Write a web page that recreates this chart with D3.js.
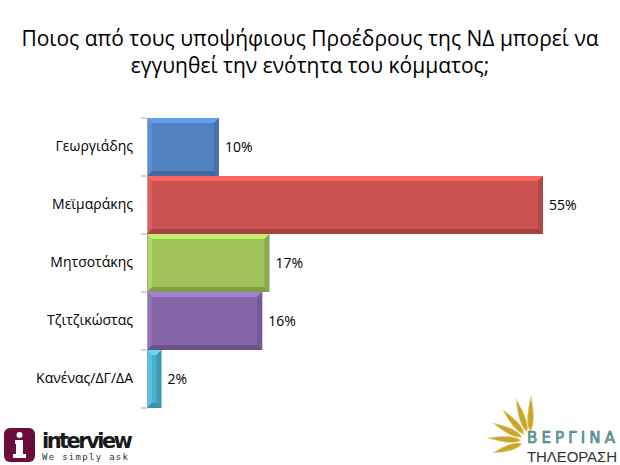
<!DOCTYPE html>
<html>
<head>
<meta charset="utf-8">
<script src="https://cdn.jsdelivr.net/npm/d3@7"></script>
<style>
  body { margin: 0; background: #fff; }
  svg { display: block; font-family: "Open Sans", "Noto Sans", sans-serif; }
</style>
</head>
<body>
<div id="chart"></div>
<script>
const categories = ["Γεωργιάδης", "Μεϊμαράκης", "Μητσοτάκης", "Τζιτζικώστας", "Κανένας/ΔΓ/ΔΑ"];
const values = [10, 55, 17, 16, 2];
const colors = ["#5082c2", "#cb5351", "#9fc25a", "#8566a8", "#4bb0cc"];
const titleLines = ["Ποιος από τους υποψήφιους Προέδρους της ΝΔ μπορεί να", "εγγυηθεί την ενότητα του κόμματος;"];

const W = 620, H = 465;
const svg = d3.select("#chart").append("svg")
  .attr("width", W)
  .attr("height", H);

// title
svg.append("g").selectAll("text")
  .data(titleLines)
  .enter().append("text")
  .attr("x", 310)
  .attr("y", (d, i) => 46 + i * 27)
  .attr("text-anchor", "middle")
  .attr("font-size", 21)
  .attr("fill", "#000")
  .text(d => d);

const x = d3.scaleLinear().domain([0, 60]).range([147, 579]);
const y = d3.scaleBand().domain(categories).range([118, 408]).padding(0);

const plot = svg.append("g");

// bars with a bevel, like the office chart style
const b = 5;
const bars = plot.selectAll(".bar")
  .data(values)
  .enter().append("g")
  .attr("class", "bar");

bars.each(function(v, i) {
  const g = d3.select(this);
  const x0 = x(0), x1 = x(v), y0 = y(categories[i]), y1 = y0 + y.bandwidth();
  const c = d3.color(colors[i]);
  const bb = Math.min(b, (x1 - x0) / 2);
  g.append("rect")
    .attr("x", x0).attr("y", y0)
    .attr("width", x1 - x0).attr("height", y1 - y0)
    .attr("fill", c);
  // top
  g.append("path")
    .attr("d", `M${x0},${y0}L${x1},${y0}L${x1 - bb},${y0 + bb}L${x0 + bb},${y0 + bb}Z`)
    .attr("fill", c.brighter(0.6));
  // left
  g.append("path")
    .attr("d", `M${x0},${y0}L${x0 + bb},${y0 + bb}L${x0 + bb},${y1 - bb}L${x0},${y1}Z`)
    .attr("fill", c.brighter(0.3));
  // bottom
  g.append("path")
    .attr("d", `M${x0},${y1}L${x0 + bb},${y1 - bb}L${x1 - bb},${y1 - bb}L${x1},${y1}Z`)
    .attr("fill", c.darker(0.6));
  // right
  g.append("path")
    .attr("d", `M${x1},${y0}L${x1},${y1}L${x1 - bb},${y1 - bb}L${x1 - bb},${y0 + bb}Z`)
    .attr("fill", c.darker(0.35));
});

// value labels
plot.selectAll(".val")
  .data(values)
  .enter().append("text")
  .attr("class", "val")
  .attr("x", d => x(d) + 6)
  .attr("y", (d, i) => y(categories[i]) + y.bandwidth() / 2)
  .attr("dy", "0.35em")
  .attr("font-size", 14)
  .attr("fill", "#000")
  .text(d => d + "%");

// category axis
const yAxis = d3.axisLeft(y).tickSize(0).tickPadding(14);
const axisG = svg.append("g")
  .attr("transform", `translate(${x(0)},0)`)
  .call(yAxis);
axisG.select(".domain").attr("stroke", "#a6a6a6");
axisG.selectAll("text")
  .attr("font-size", 14)
  .attr("fill", "#000")
  .attr("font-family", "'Open Sans', 'Noto Sans', sans-serif");

// tick marks at band boundaries
const bounds = categories.map(c => y(c)).concat([y.range()[1]]);
axisG.selectAll(".bound")
  .data(bounds)
  .enter().append("line")
  .attr("x1", -6).attr("x2", 0)
  .attr("y1", d => d).attr("y2", d => d)
  .attr("stroke", "#a6a6a6");

// interview logo
const logo = svg.append("g");
logo.append("rect")
  .attr("x", 4).attr("y", 428).attr("width", 31).attr("height", 34)
  .attr("rx", 6).attr("fill", "#6a0d3a");
logo.append("circle").attr("cx", 19.5).attr("cy", 435).attr("r", 3).attr("fill", "#fff");
logo.append("path")
  .attr("d", "M15,440L23,440L23,454L26,454L26,458L13,458L13,454L16,454L16,444L15,444Z")
  .attr("fill", "#fff");
logo.append("text")
  .attr("x", 42).attr("y", 448)
  .attr("font-family", "'DejaVu Sans', sans-serif")
  .attr("font-weight", "bold")
  .attr("font-size", 21)
  .attr("textLength", 91)
  .attr("fill", "#1a1a1a")
  .text("interview");
logo.append("text")
  .attr("x", 42).attr("y", 460)
  .attr("font-family", "'DejaVu Sans Mono', monospace")
  .attr("font-size", 9)
  .attr("textLength", 86)
  .attr("fill", "#333")
  .text("We simply ask");

// vergina logo
const vg = svg.append("g");
const rays = [[531, 396], [516, 399], [503, 410], [493, 423], [488, 438], [493, 453]];
const cx = 530, cy = 441;
rays.forEach(([tx, ty]) => {
  const dx = tx - cx, dy = ty - cy;
  const len = Math.sqrt(dx * dx + dy * dy);
  const ang = Math.atan2(dy, dx) * 180 / Math.PI;
  vg.append("path")
    .attr("transform", `translate(${cx},${cy}) rotate(${ang})`)
    .attr("d", `M${len * 0.22},0 Q${len * 0.4},-6 ${len},0 Q${len * 0.4},6 ${len * 0.22},0Z`)
    .attr("fill", "#c9a52a")
    .attr("stroke", "#ead98a")
    .attr("stroke-width", 0.6);
});
vg.append("text")
  .attr("x", 527).attr("y", 443)
  .attr("font-family", "'DejaVu Sans', sans-serif")
  .attr("font-size", 15)
  .attr("textLength", 88)
  .attr("fill", "#7ab648")
  .attr("stroke", "#2a6fb0")
  .attr("stroke-width", 0.6)
  .text("ΒΕΡΓΙΝΑ");
vg.append("text")
  .attr("x", 527).attr("y", 462)
  .attr("font-family", "'Liberation Sans', sans-serif")
  .attr("font-size", 15)
  .attr("textLength", 90)
  .attr("fill", "#333")
  .text("ΤΗΛΕΟΡΑΣΗ");
</script>
</body>
</html>
